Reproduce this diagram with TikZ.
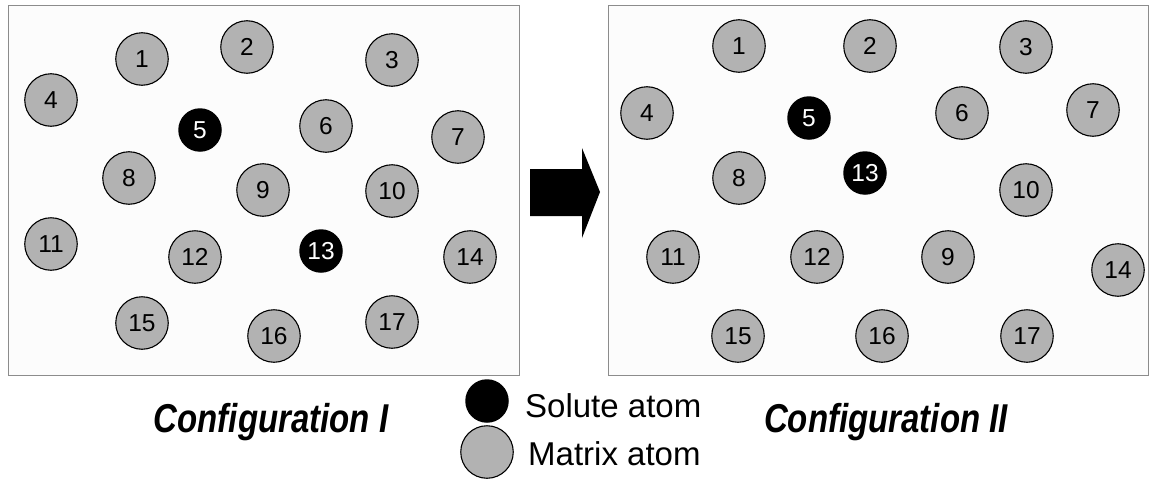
\documentclass[tikz,border=0pt]{standalone}
\usepackage{fontspec}
\setmainfont{Liberation Sans}
\begin{document}
\begin{tikzpicture}[x=1pt,y=-1pt,
  matrixatom/.style={circle,draw=black,line width=1.1pt,fill=atomgray,minimum size=52.5pt,inner sep=0pt,font=\fontsize{24.5}{24.5}\selectfont},
  soluteatom/.style={circle,fill=black,minimum size=43.5pt,inner sep=0pt,text=white,font=\fontsize{24.5}{24.5}\selectfont},
  panel/.style={draw=panelgray,line width=1pt,fill=panelfill},
  conf/.style={font=\fontsize{33}{33}\selectfont\bfseries\itshape,yscale=1.22,anchor=base},
  legendtext/.style={font=\fontsize{33}{33}\selectfont,anchor=base west,inner sep=0pt}]
\definecolor{atomgray}{RGB}{178,178,178}
\definecolor{panelgray}{RGB}{140,140,140}
\definecolor{panelfill}{RGB}{252,252,252}
\useasboundingbox (0,0) rectangle (1151,479);
\fill[white] (0,0) rectangle (1151,479);
% panels
\draw[panel] (8,5) rectangle (519,375);
\draw[panel] (608,5) rectangle (1148,375);
% Configuration I
\node[matrixatom] (a1) at (142,59) {1};
\node[matrixatom] (a2) at (247,47) {2};
\node[matrixatom] (a3) at (392,60) {3};
\node[matrixatom] (a4) at (51,100) {4};
\node[soluteatom] (a5) at (200,130) {5};
\node[matrixatom] (a6) at (326,126) {6};
\node[matrixatom] (a7) at (458,137) {7};
\node[matrixatom] (a8) at (129,178) {8};
\node[matrixatom] (a9) at (263,190) {9};
\node[matrixatom] (a10) at (392,191) {10};
\node[matrixatom] (a11) at (51,244) {11};
\node[matrixatom] (a12) at (195,257) {12};
\node[soluteatom] (a13) at (321,251) {13};
\node[matrixatom] (a14) at (470,257) {14};
\node[matrixatom] (a15) at (142,323) {15};
\node[matrixatom] (a16) at (274,336) {16};
\node[matrixatom] (a17) at (392,322) {17};
% Configuration II
\node[matrixatom] (b1) at (739,46) {1};
\node[matrixatom] (b2) at (870,46) {2};
\node[matrixatom] (b3) at (1026,47) {3};
\node[matrixatom] (b4) at (647,113) {4};
\node[soluteatom] (b5) at (809,118) {5};
\node[matrixatom] (b6) at (962,113) {6};
\node[matrixatom] (b7) at (1093,110) {7};
\node[matrixatom] (b8) at (739,178) {8};
\node[soluteatom] (b13) at (865,173) {13};
\node[matrixatom] (b10) at (1026,190) {10};
\node[matrixatom] (b11) at (673,257) {11};
\node[matrixatom] (b12) at (817,257) {12};
\node[matrixatom] (b9) at (948,257) {9};
\node[matrixatom] (b14) at (1118,270) {14};
\node[matrixatom] (b15) at (738,336) {15};
\node[matrixatom] (b16) at (882,336) {16};
\node[matrixatom] (b17) at (1027,336) {17};
% arrow
\fill[black] (530,169) -- (582,169) -- (582,148) -- (600,192) -- (582,238) -- (582,216) -- (530,216) -- cycle;
% labels
\node[conf] (c1) at (271,432) {Configuration I};
\node[conf] (c2) at (886,432) {Configuration II};
% legend
\node[soluteatom] (ls) at (487,401) {};
\node[matrixatom] (lm) at (487,452) {};
\node[legendtext] (lst) at (525,417) {Solute atom};
\node[legendtext] (lmt) at (528,465) {Matrix atom};
\end{tikzpicture}
\end{document}
